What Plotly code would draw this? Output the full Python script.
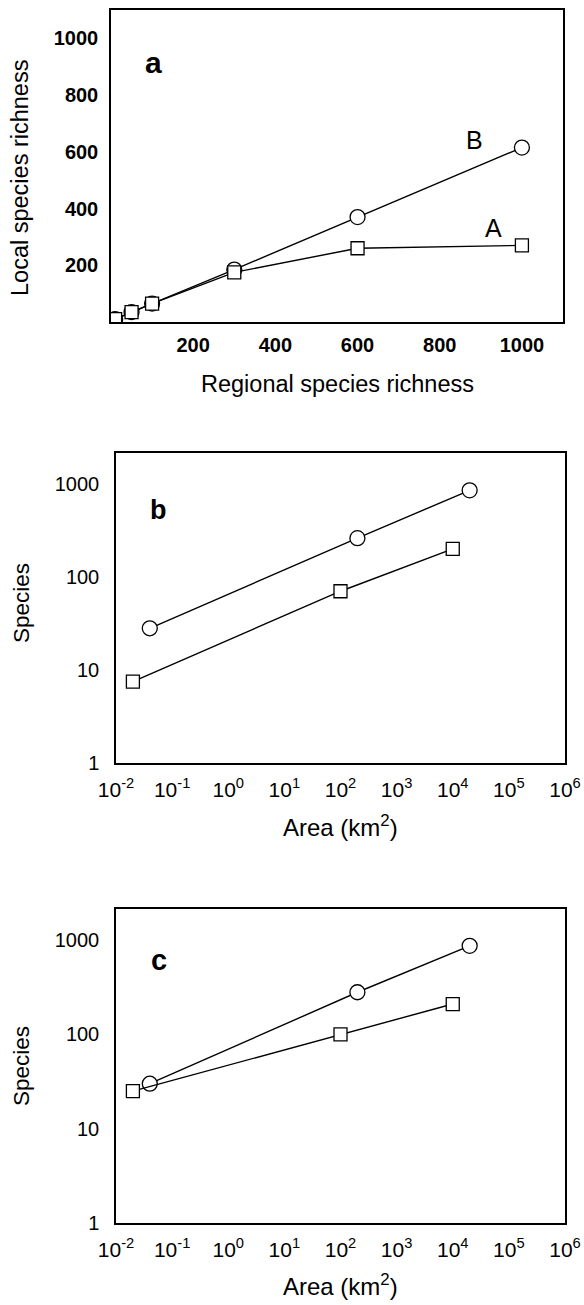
import plotly.graph_objects as go

# ---------------- data ----------------
# panel a
regional = [10, 50, 100, 300, 600, 1000]
local_A = [10, 35, 65, 175, 260, 270]
local_B = [10, 35, 65, 185, 370, 615]
a_ticks = [200, 400, 600, 800, 1000]

# panel b
area_circ_b = [0.04, 200, 20000]
species_circ_b = [28, 260, 850]
area_sq_b = [0.02, 100, 10000]
species_sq_b = [7.5, 70, 200]

# panel c
area_circ_c = [0.04, 200, 20000]
species_circ_c = [30, 280, 870]
area_sq_c = [0.02, 100, 10000]
species_sq_c = [25, 100, 210]

log_xticks = [1e-2, 1e-1, 1e0, 1e1, 1e2, 1e3, 1e4, 1e5, 1e6]
log_xtext = ["10<sup>-2</sup>", "10<sup>-1</sup>", "10<sup>0</sup>", "10<sup>1</sup>",
             "10<sup>2</sup>", "10<sup>3</sup>", "10<sup>4</sup>", "10<sup>5</sup>",
             "10<sup>6</sup>"]
log_yticks = [1, 10, 100, 1000]
log_ytext = ["1", "10", "100", "1000"]

# ---------------- layout helpers ----------------
W, H = 584, 1305
FONT = "Liberation Sans, Arial, Helvetica, sans-serif"


def px(x):
    return x / W


def py(y):
    return 1 - y / H


line_style = dict(color="black", width=1.4)
circ = dict(symbol="circle", size=15, color="white", line=dict(color="black", width=1.3))
sq = dict(symbol="square", size=13, color="white", line=dict(color="black", width=1.3))

fig = go.Figure()

# panel a
fig.add_trace(go.Scatter(x=regional, y=local_B, mode="lines+markers", line=line_style,
                         marker=circ, xaxis="x", yaxis="y", showlegend=False))
fig.add_trace(go.Scatter(x=regional, y=local_A, mode="lines+markers", line=line_style,
                         marker=sq, xaxis="x", yaxis="y", showlegend=False))
# panel b
fig.add_trace(go.Scatter(x=area_circ_b, y=species_circ_b, mode="lines+markers", line=line_style,
                         marker=circ, xaxis="x2", yaxis="y2", showlegend=False))
fig.add_trace(go.Scatter(x=area_sq_b, y=species_sq_b, mode="lines+markers", line=line_style,
                         marker=sq, xaxis="x2", yaxis="y2", showlegend=False))
# panel c
fig.add_trace(go.Scatter(x=area_circ_c, y=species_circ_c, mode="lines+markers", line=line_style,
                         marker=circ, xaxis="x3", yaxis="y3", showlegend=False))
fig.add_trace(go.Scatter(x=area_sq_c, y=species_sq_c, mode="lines+markers", line=line_style,
                         marker=sq, xaxis="x3", yaxis="y3", showlegend=False))

axis_common = dict(showgrid=False, zeroline=False, showline=True, linecolor="black",
                   linewidth=1.5, mirror=True, ticks="", automargin=False)

tick_bold = dict(family=FONT, size=20, color="black", weight="bold")
tick_reg = dict(family=FONT, size=20, color="black")
tick_log = dict(family=FONT, size=21, color="black")

fig.update_layout(
    template="none",
    width=W, height=H,
    margin=dict(l=0, r=0, t=0, b=0, pad=0, autoexpand=False),
    paper_bgcolor="white", plot_bgcolor="white",
    font=dict(family=FONT, color="black"),
    showlegend=False,
    xaxis=dict(domain=[px(111), px(563)], range=[0, 1100], tickvals=a_ticks,
               tickfont=tick_bold, anchor="y", ticklabelstandoff=4, **axis_common),
    yaxis=dict(domain=[py(322), py(10)], range=[0, 1100], tickvals=a_ticks,
               tickfont=tick_bold, anchor="x", ticklabelstandoff=7, **axis_common),
    xaxis2=dict(domain=[px(116), px(565)], type="log", range=[-2, 6], tickvals=log_xticks,
                ticktext=log_xtext, tickfont=tick_log, anchor="y2", ticklabelstandoff=7,
                **axis_common),
    yaxis2=dict(domain=[py(763), py(453)], type="log", range=[0, 3.33], tickvals=log_yticks,
                ticktext=log_ytext, tickfont=tick_reg, anchor="x2", ticklabelstandoff=11,
                **axis_common),
    xaxis3=dict(domain=[px(116), px(565)], type="log", range=[-2, 6], tickvals=log_xticks,
                ticktext=log_xtext, tickfont=tick_log, anchor="y3", ticklabelstandoff=7,
                **axis_common),
    yaxis3=dict(domain=[py(1223), py(909)], type="log", range=[0, 3.33], tickvals=log_yticks,
                ticktext=log_ytext, tickfont=tick_reg, anchor="x3", ticklabelstandoff=11,
                **axis_common),
)

ann = []


def text(x, y, s, size, bold=False, angle=0):
    ann.append(dict(x=px(x), y=py(y), xref="paper", yref="paper", text=s, showarrow=False,
                    xanchor="center", yanchor="middle", textangle=angle,
                    font=dict(family=FONT, size=size, color="black",
                              weight="bold" if bold else "normal")))


# panel labels
text(153, 62, "a", 30, bold=True)
text(474, 140, "B", 25)
text(493, 228, "A", 25)
text(158, 510, "b", 27, bold=True)
text(159, 960, "c", 29, bold=True)
# axis titles
text(20, 178, "Local species richness", 23.5, angle=-90)
text(337, 384, "Regional species richness", 23.5)
text(21, 603, "Species", 22.5, angle=-90)
text(340, 826, "Area (km<sup>2</sup>)", 24)
text(21, 1066, "Species", 22.5, angle=-90)
text(340, 1285, "Area (km<sup>2</sup>)", 24)

fig.update_layout(annotations=ann)

fig.write_html("out.html",
               config={"displayModeBar": False},
               post_script="document.body.style.margin='0';document.body.style.padding='0';")
